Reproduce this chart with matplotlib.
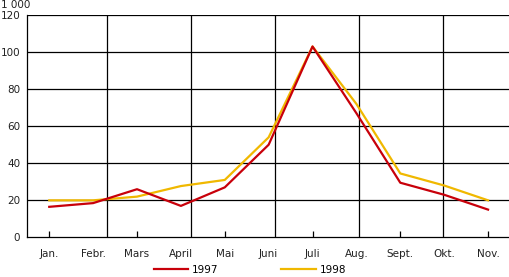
import matplotlib.pyplot as plt
from matplotlib.ticker import FixedLocator

# Monthly values, in 1 000
months = ['Jan.', 'Febr.', 'Mars', 'April', 'Mai', 'Juni', 'Juli', 'Aug.', 'Sept.', 'Okt.', 'Nov.']
v1997 = [16.5, 18.5, 26, 17, 27, 50, 103, 67, 29.5, 23, 15]
v1998 = [20, 20, 22, 27.7, 31, 54, 103, 72, 34.5, 28, 20]

red = '#c8000a'
yellow = '#f0b800'

fig = plt.figure(figsize=(5.1, 2.77), dpi=100)
ax = fig.add_axes([27.3 / 510, 1 - 237.4 / 277, 1 - 27.3 / 510, (237.4 - 15) / 277])

x = list(range(len(months)))
ax.plot(x, v1998, color=yellow, linewidth=1.6, label='1998', zorder=3)
ax.plot(x, v1997, color=red, linewidth=1.6, label='1997', zorder=4)

ax.set_xlim(-0.5, 10.5)
ax.set_ylim(0, 120)

# Grid lines
for y in [20, 40, 60, 80, 100, 120]:
    ax.axhline(y, color='black', linewidth=0.9, zorder=1)
for gx in [1.308, 3.222, 5.136, 7.05, 8.964]:
    ax.axvline(gx, color='black', linewidth=0.9, zorder=1)

for side in ['top', 'right']:
    ax.spines[side].set_visible(False)
for side in ['left', 'bottom']:
    ax.spines[side].set_linewidth(0.9)

ax.set_yticks([0, 20, 40, 60, 80, 100, 120])
ax.tick_params(axis='y', length=0, pad=5, labelsize=7.5, labelcolor='#222222')

ax.set_xticks(x)
ax.set_xticklabels(months)
ax.xaxis.remove_overlapping_locs = False
ax.xaxis.set_minor_locator(FixedLocator(x[::2]))
ax.tick_params(axis='x', which='major', length=0, pad=8.5, labelsize=7.5, labelcolor='#222222')
ax.tick_params(axis='x', which='minor', length=4.5, width=0.9, direction='in')

fig.text(1 / 510, 1 - 5 / 277, '1 000', fontsize=7.5, color='#222222', va='center', ha='left')

handles, labels = ax.get_legend_handles_labels()
fig.legend(handles[::-1], labels[::-1], loc='center', bbox_to_anchor=(250 / 510, 1 - 270 / 277),
           ncol=2, frameon=False, fontsize=7.5, handlelength=3.3, columnspacing=6,
           handletextpad=0.4, borderpad=0)

fig.savefig('out.png', dpi=100)
